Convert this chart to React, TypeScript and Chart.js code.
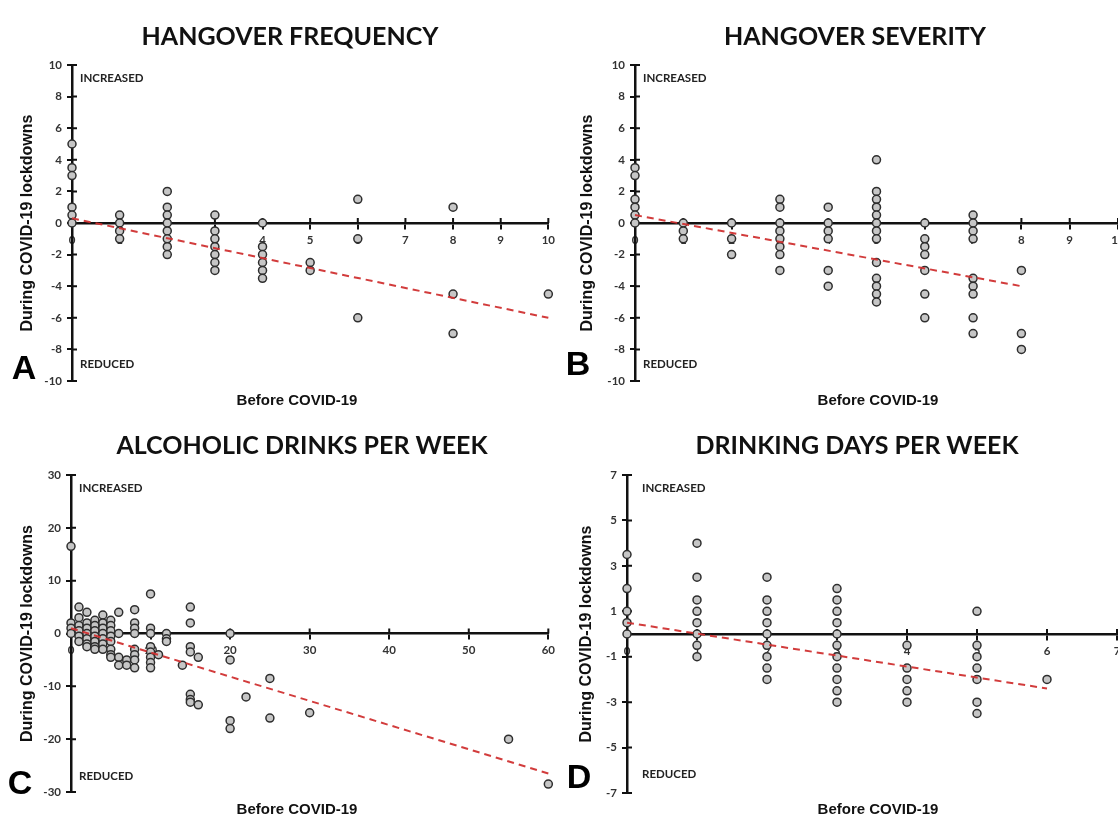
import React, { useEffect, useRef } from "react";
import { Chart, registerables } from "chart.js";

Chart.register(...registerables);

// ---------- Panel A: hangover frequency ----------
const freqX = [0, 1, 2, 3, 4, 5, 6, 8, 10];
const freqY = [
  [5, 3.5, 3, 1, 0.5, 0],
  [0.5, 0, -0.5, -1],
  [2, 1, 0.5, 0, -0.5, -1, -1.5, -2],
  [0.5, -0.5, -1, -1.5, -2, -2.5, -3],
  [0, -1.5, -2, -2.5, -3, -3.5],
  [-2.5, -3],
  [1.5, -1, -6],
  [1, -4.5, -7],
  [-4.5],
];
const freqTrendX = [0, 10];
const freqTrendY = [0.3, -6];
const freqXAxis = [0, 10, 1];
const freqYAxis = [-10, 10, 2];

// ---------- Panel B: hangover severity ----------
const sevX = [0, 1, 2, 3, 4, 5, 6, 7, 8];
const sevY = [
  [3.5, 3, 1.5, 1, 0.5, 0],
  [0, -0.5, -1],
  [0, -1, -2],
  [1.5, 1, 0, -0.5, -1, -1.5, -2, -3],
  [1, 0, -0.5, -1, -3, -4],
  [4, 2, 1.5, 1, 0.5, 0, -0.5, -1, -2.5, -3.5, -4, -4.5, -5],
  [0, -1, -1.5, -2, -3, -4.5, -6],
  [0.5, 0, -0.5, -1, -3.5, -4, -4.5, -6, -7],
  [-3, -7, -8],
];
const sevTrendX = [0, 8];
const sevTrendY = [0.5, -4];
const sevXAxis = [0, 10, 1];
const sevYAxis = [-10, 10, 2];

// ---------- Panel C: alcoholic drinks per week ----------
const drinksX = [0, 1, 2, 3, 4, 5, 6, 7, 8, 10, 11, 12, 14, 15, 16, 20, 22, 25, 30, 55, 60];
const drinksY = [
  [16.5, 2, 1, 0],
  [5, 3, 1.5, 0.5, -0.5, -1.5],
  [4, 2, 1, 0, -1, -2, -2.5],
  [2.5, 1.5, 0.5, -0.5, -1.5, -2.5, -3],
  [3.5, 2, 1, 0, -1, -2, -3],
  [2.5, 1.5, 0.5, -0.5, -1.5, -3, -4, -4.5],
  [4, 0, -4.5, -6],
  [-5, -6],
  [4.5, 2, 1, 0, -3, -4, -5, -6.5],
  [7.5, 1, 0, -2.5, -3.5, -4.5, -5.5, -6.5],
  [-4],
  [0, -1, -1.5],
  [-6],
  [5, 2, -2.5, -3.5, -11.5, -12.5, -13],
  [-4.5, -13.5],
  [0, -5, -16.5, -18],
  [-12],
  [-8.5, -16],
  [-15],
  [-20],
  [-28.5],
];
const drinksTrendX = [0, 60];
const drinksTrendY = [1, -26.5];
const drinksXAxis = [0, 60, 10];
const drinksYAxis = [-30, 30, 10];

// ---------- Panel D: drinking days per week ----------
const daysX = [0, 1, 2, 3, 4, 5, 6];
const daysY = [
  [3.5, 2, 1, 0.5, 0],
  [4, 2.5, 1.5, 1, 0.5, 0, -0.5, -1],
  [2.5, 1.5, 1, 0.5, 0, -0.5, -1, -1.5, -2],
  [2, 1.5, 1, 0.5, 0, -0.5, -1, -1.5, -2, -2.5, -3],
  [-0.5, -1.5, -2, -2.5, -3],
  [1, -0.5, -1, -1.5, -2, -3, -3.5],
  [-2],
];
const daysTrendX = [0, 6];
const daysTrendY = [0.5, -2.4];
const daysXAxis = [0, 7, 1];
const daysYAxis = [-7, 7, 2];

const panelTitles = [
  "HANGOVER FREQUENCY",
  "HANGOVER SEVERITY",
  "ALCOHOLIC DRINKS PER WEEK",
  "DRINKING DAYS PER WEEK",
];
const panelLetters = ["A", "B", "C", "D"];
const xTitle = "Before COVID-19";
const yTitle = "During COVID-19 lockdowns";
const upLabel = "INCREASED";
const downLabel = "REDUCED";

const AXIS = "#111";
const TICK_FONT = { family: "Lato", weight: "bold" as const, size: 11.5 };

const innerTicks = {
  id: "innerTicks",
  beforeDatasetsDraw(chart: any) {
    const { ctx, scales } = chart;
    const xs = scales.x;
    const ys = scales.y;
    const y0 = ys.getPixelForValue(0);
    const x0 = xs.getPixelForValue(xs.min);
    ctx.save();
    ctx.strokeStyle = AXIS;
    ctx.lineWidth = 2;
    ctx.beginPath();
    xs.ticks.forEach((t: any) => {
      const px = xs.getPixelForValue(t.value);
      ctx.moveTo(px, y0);
      ctx.lineTo(px, y0 - 5);
    });
    ys.ticks.forEach((t: any) => {
      const py = ys.getPixelForValue(t.value);
      ctx.moveTo(x0, py);
      ctx.lineTo(x0 + 5, py);
    });
    ctx.stroke();
    ctx.restore();
  },
};

type Spec = {
  left: number;
  top: number;
  width: number;
  height: number;
  pad: { left: number; right: number; top: number; bottom: number };
  yWidth: number;
  xs: number[];
  ys: number[][];
  trendX: number[];
  trendY: number[];
  xAxis: number[];
  yAxis: number[];
};

function Panel({ spec }: { spec: Spec }) {
  const ref = useRef<HTMLCanvasElement>(null);
  useEffect(() => {
    if (!ref.current) return;
    const points: { x: number; y: number }[] = [];
    spec.xs.forEach((x, i) => spec.ys[i].forEach((y) => points.push({ x, y })));
    const trend = spec.trendX.map((x, i) => ({ x, y: spec.trendY[i] }));
    const grid = {
      display: true,
      drawOnChartArea: false,
      drawTicks: true,
      tickLength: 5,
      color: AXIS,
      lineWidth: 2,
    };
    const border = { display: true, color: AXIS, width: 2.5 };
    const chart = new Chart(ref.current, {
      type: "scatter",
      data: {
        datasets: [
          {
            data: trend,
            showLine: true,
            borderColor: "rgba(208,50,50,0.95)",
            borderDash: [7, 5],
            borderWidth: 2,
            pointRadius: 0,
            pointHoverRadius: 0,
            order: 0,
            clip: false as any,
          },
          {
            data: points,
            pointRadius: 4,
            pointBorderWidth: 1.5,
            backgroundColor: "#c6c6c6",
            borderColor: "#2e2e2e",
            order: 1,
            clip: false as any,
          },
        ],
      },
      options: {
        animation: false,
        responsive: false,
        events: [],
        layout: { padding: spec.pad },
        plugins: { legend: { display: false }, tooltip: { enabled: false } },
        scales: {
          x: {
            type: "linear",
            axis: "x",
            position: { y: 0 } as any,
            min: spec.xAxis[0],
            max: spec.xAxis[1],
            ticks: {
              stepSize: spec.xAxis[2],
              autoSkip: false,
              maxRotation: 0,
              font: TICK_FONT,
              color: "#333",
              padding: 5,
            },
            grid,
            border,
          },
          y: {
            type: "linear",
            position: "left",
            min: spec.yAxis[0],
            max: spec.yAxis[1],
            ticks: {
              stepSize: spec.yAxis[2],
              autoSkip: false,
              font: TICK_FONT,
              color: "#333",
              padding: 5,
            },
            grid,
            border,
            title: {
              display: true,
              text: yTitle,
              font: { family: "Liberation Sans", weight: "bold", size: 16 },
              color: "#111",
              padding: { top: 4, bottom: 4 },
            },
            afterFit: (s: any) => {
              s.width = spec.yWidth;
            },
          },
        },
      },
      plugins: [innerTicks],
    });
    return () => chart.destroy();
  }, [spec]);
  return (
    <canvas
      ref={ref}
      width={spec.width}
      height={spec.height}
      style={{
        position: "absolute",
        left: spec.left,
        top: spec.top,
        width: spec.width,
        height: spec.height,
      }}
    />
  );
}

const specs: Spec[] = [
  {
    left: 0, top: 0, width: 560, height: 410,
    pad: { left: 14, right: 8, top: 65, bottom: 29 }, yWidth: 58,
    xs: freqX, ys: freqY, trendX: freqTrendX, trendY: freqTrendY,
    xAxis: freqXAxis, yAxis: freqYAxis,
  },
  {
    left: 560, top: 0, width: 600, height: 410,
    pad: { left: 14, right: 42, top: 65, bottom: 29 }, yWidth: 61,
    xs: sevX, ys: sevY, trendX: sevTrendX, trendY: sevTrendY,
    xAxis: sevXAxis, yAxis: sevYAxis,
  },
  {
    left: 0, top: 410, width: 560, height: 407,
    pad: { left: 14, right: 9, top: 65, bottom: 25 }, yWidth: 57,
    xs: drinksX, ys: drinksY, trendX: drinksTrendX, trendY: drinksTrendY,
    xAxis: drinksXAxis, yAxis: drinksYAxis,
  },
  {
    left: 560, top: 410, width: 600, height: 407,
    pad: { left: 13, right: 43, top: 65, bottom: 24 }, yWidth: 54,
    xs: daysX, ys: daysY, trendX: daysTrendX, trendY: daysTrendY,
    xAxis: daysXAxis, yAxis: daysYAxis,
  },
];

function Txt({ x, y, text, style }: { x: number; y: number; text: string; style: React.CSSProperties }) {
  return (
    <div
      style={{
        position: "absolute",
        left: x,
        top: y,
        transform: "translate(-50%, -50%)",
        whiteSpace: "nowrap",
        lineHeight: 1,
        ...style,
      }}
    >
      {text}
    </div>
  );
}

function LeftTxt({ x, y, text, style }: { x: number; y: number; text: string; style: React.CSSProperties }) {
  return (
    <div
      style={{
        position: "absolute",
        left: x,
        top: y,
        transform: "translateY(-50%)",
        whiteSpace: "nowrap",
        lineHeight: 1,
        ...style,
      }}
    >
      {text}
    </div>
  );
}

const titleStyle: React.CSSProperties = { fontFamily: "Lato", fontWeight: 700, fontSize: 25, color: "#111" };
const noteStyle: React.CSSProperties = { fontFamily: "Lato", fontWeight: 700, fontSize: 11.5, color: "#222" };
const letterStyle: React.CSSProperties = { fontFamily: "Liberation Sans", fontWeight: 700, fontSize: 34, color: "#000" };
const xTitleStyle: React.CSSProperties = { fontFamily: "Liberation Sans", fontWeight: 700, fontSize: 15, color: "#111" };

const titlePos = [
  [290, 35],
  [855, 35],
  [302, 444],
  [857, 444],
];
const letterPos = [
  [24, 367],
  [578, 363],
  [20, 782],
  [579, 776],
];
const xTitlePos = [
  [297, 399],
  [878, 399],
  [297, 808],
  [878, 808],
];
const upPos = [
  [80, 78],
  [643, 78],
  [79, 488],
  [642, 488],
];
const downPos = [
  [80, 364],
  [643, 364],
  [79, 776],
  [642, 774],
];

export default function App() {
  return (
    <div
      style={{
        position: "fixed",
        left: 0,
        top: 0,
        width: 1118,
        height: 817,
        overflow: "hidden",
        background: "#fff",
      }}
    >
      {specs.map((s, i) => (
        <Panel key={i} spec={s} />
      ))}
      {panelTitles.map((t, i) => (
        <Txt key={"t" + i} x={titlePos[i][0]} y={titlePos[i][1]} text={t} style={titleStyle} />
      ))}
      {panelLetters.map((t, i) => (
        <Txt key={"l" + i} x={letterPos[i][0]} y={letterPos[i][1]} text={t} style={letterStyle} />
      ))}
      {xTitlePos.map((p, i) => (
        <Txt key={"x" + i} x={p[0]} y={p[1]} text={xTitle} style={xTitleStyle} />
      ))}
      {upPos.map((p, i) => (
        <LeftTxt key={"u" + i} x={p[0]} y={p[1]} text={upLabel} style={noteStyle} />
      ))}
      {downPos.map((p, i) => (
        <LeftTxt key={"d" + i} x={p[0]} y={p[1]} text={downLabel} style={noteStyle} />
      ))}
    </div>
  );
}
